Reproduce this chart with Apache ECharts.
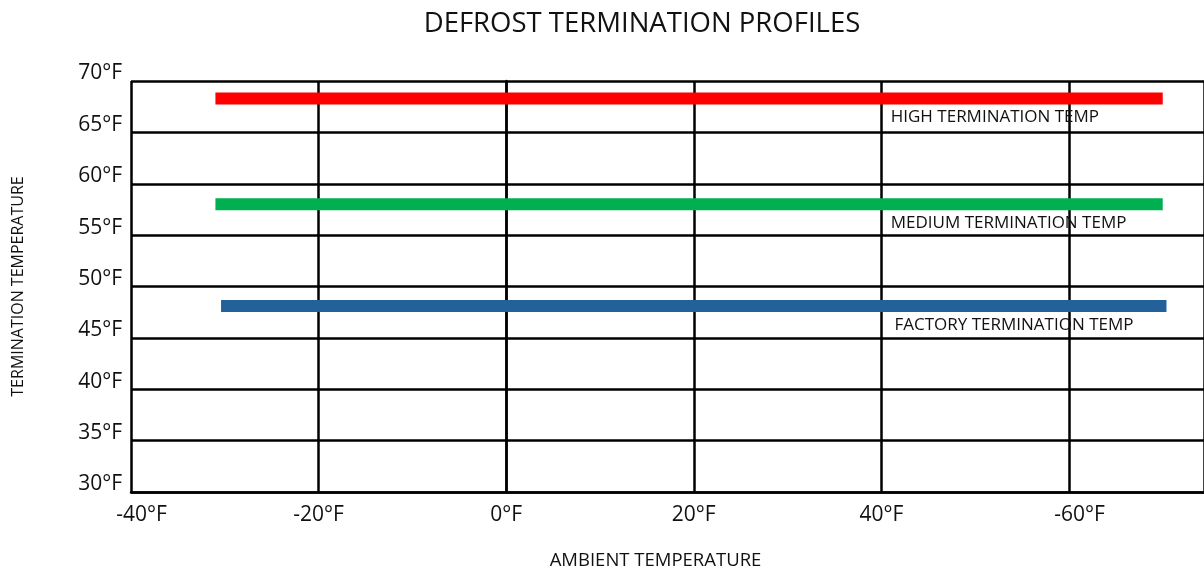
<!DOCTYPE html>
<html>
<head>
<meta charset="utf-8">
<title>Defrost Termination Profiles</title>
<script src="https://cdn.jsdelivr.net/npm/echarts@6/dist/echarts.min.js"></script>
<style>
  html, body { margin: 0; padding: 0; background: #ffffff; }
  #chart { width: 1204px; height: 571px; }
</style>
</head>
<body>
<div id="chart"></div>
<script>
// Termination profiles: constant termination temperature across ambient range
const profileNames = ['HIGH TERMINATION TEMP', 'MEDIUM TERMINATION TEMP', 'FACTORY TERMINATION TEMP'];
const profileTemps = [68.3, 58, 48.1];
const profileStart = [-31, -31, -30.4];
const profileEnd = [70, 70, 70.4];
const profileColors = ['#ff0000', '#00b050', '#23619b'];

// Axis ticks and their printed labels
const xTickValues = [-40, -20, 0, 20, 40, 60];
const xTickLabels = ['-40°F', '-20°F', '0°F', '20°F', '40°F', '-60°F'];
const yTickValues = [30, 35, 40, 45, 50, 55, 60, 65, 70];
const yTickLabels = ['30°F', '35°F', '40°F', '45°F', '50°F', '55°F', '60°F', '65°F', '70°F'];

const FONT = '"Open Sans", "Noto Sans", sans-serif';
const LABEL_X = [41, 41, 41.4];      // where each profile caption starts (ambient °F)
const NUDGED_X_LABELS = [-40, 60];    // tick labels set slightly right of their gridline

const chart = echarts.init(document.getElementById('chart'), null, { renderer: 'canvas' });

const series = profileNames.map((name, i) => ({
  name: name,
  type: 'line',
  data: [[profileStart[i], profileTemps[i]], [profileEnd[i], profileTemps[i]]],
  showSymbol: false,
  symbol: 'none',
  silent: true,
  lineStyle: { color: profileColors[i], width: 12, cap: 'butt' },
  markPoint: {
    symbol: 'circle',
    symbolSize: 0,
    silent: true,
    data: [{ coord: [LABEL_X[i], profileTemps[i]] }],
    label: {
      show: true,
      position: 'right',
      distance: 0,
      offset: [0, 19],
      formatter: name,
      color: '#111',
      fontFamily: FONT,
      fontSize: 17
    }
  }
}));

chart.setOption({
  animation: false,
  backgroundColor: '#ffffff',
  title: {
    text: 'DEFROST TERMINATION PROFILES',
    left: 637,
    top: 5,
    textAlign: 'center',
    textStyle: { fontFamily: FONT, fontWeight: 'normal', fontSize: 27.5, color: '#111' }
  },
  grid: { left: 131, right: 0, top: 81, bottom: 79, containLabel: false, outerBoundsMode: 'none' },
  xAxis: {
    type: 'value',
    min: -40,
    max: 74.4,
    interval: 20,
    name: 'AMBIENT TEMPERATURE',
    nameLocation: 'middle',
    nameGap: 59,
    nameTextStyle: { fontFamily: FONT, fontSize: 18.5, color: '#111', padding: [0, 24, 0, 0] },
    axisLine: { show: true, lineStyle: { color: '#000', width: 2.5 } },
    axisTick: { show: false },
    splitLine: { show: true, lineStyle: { color: '#000', width: 2.5 } },
    axisLabel: {
      margin: 13,
      fontFamily: FONT,
      fontSize: 21,
      color: '#111',
      showMaxLabel: false,
      formatter: v => {
        const k = xTickValues.indexOf(v);
        if (k < 0) return '';
        return NUDGED_X_LABELS.indexOf(v) >= 0 ? '{n|' + xTickLabels[k] + '}' : xTickLabels[k];
      },
      rich: {
        n: { fontFamily: FONT, fontSize: 21, color: '#111', padding: [0, 0, 0, 21] }
      }
    }
  },
  yAxis: {
    type: 'value',
    min: 30,
    max: 70,
    interval: 5,
    name: 'TERMINATION TEMPERATURE',
    nameLocation: 'middle',
    nameRotate: 90,
    nameGap: 105,
    nameTextStyle: { fontFamily: FONT, fontSize: 16, color: '#111' },
    axisLine: { show: true, lineStyle: { color: '#000', width: 2.5 } },
    axisTick: { show: false },
    splitLine: { show: true, lineStyle: { color: '#000', width: 2.5 } },
    axisLabel: {
      margin: 9,
      verticalAlign: 'bottom',
      lineHeight: 15,
      fontFamily: FONT,
      fontSize: 21,
      color: '#111',
      formatter: v => {
        const k = yTickValues.indexOf(v);
        return k < 0 ? '' : yTickLabels[k];
      }
    }
  },
  series: series
});
</script>
</body>
</html>
